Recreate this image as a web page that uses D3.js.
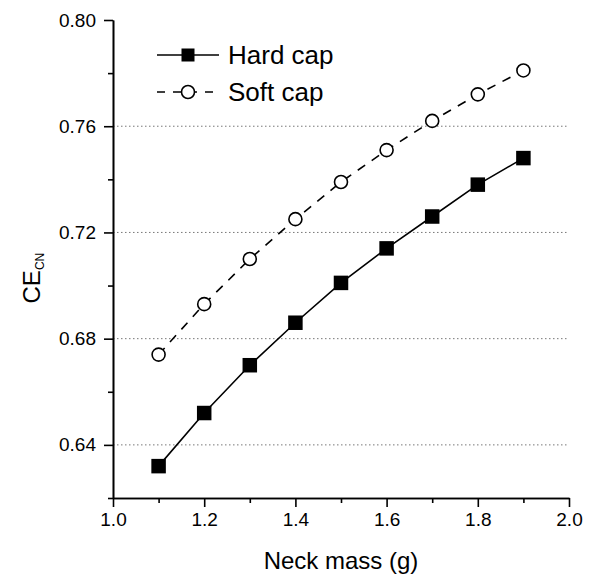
<!DOCTYPE html>
<html>
<head>
<meta charset="utf-8">
<script src="https://cdn.jsdelivr.net/npm/d3@7"></script>
<style>
  body { margin: 0; background: #fff; }
  svg { display: block; font-family: "Liberation Sans", Arial, sans-serif; }
</style>
</head>
<body>
<div id="chart"></div>
<script>
// values
const neckMass = [1.1, 1.2, 1.3, 1.4, 1.5, 1.6, 1.7, 1.8, 1.9];
const hardCap = [0.632, 0.652, 0.670, 0.686, 0.701, 0.714, 0.726, 0.738, 0.748];
const softCap = [0.674, 0.693, 0.710, 0.725, 0.739, 0.751, 0.762, 0.772, 0.781];
const seriesNames = ["Hard cap", "Soft cap"];
const xTicks = [1.0, 1.2, 1.4, 1.6, 1.8, 2.0];
const xMinorTicks = [1.1, 1.3, 1.5, 1.7, 1.9];
const yTicks = [0.64, 0.68, 0.72, 0.76, 0.80];
const yMinorTicks = [0.62, 0.66, 0.70, 0.74, 0.78];

const margin = ({top: 20, right: 26, bottom: 77, left: 113});
const width = 595 - margin.left - margin.right;
const height = 575 - margin.top - margin.bottom;

const x = d3.scaleLinear()
  .domain([1.0, 2.0])
  .range([0, width]);
const y = d3.scaleLinear()
  .domain([0.62, 0.80])
  .range([height, 0]);

const svg = d3.select("#chart")
  .append("svg")
  .attr("width", 595)
  .attr("height", 575)
  .append("g")
  .attr("transform", `translate(${margin.left}, ${margin.top})`);

// dotted grid at the labelled values (not the top one)
svg.append("g")
  .selectAll("line")
  .data(yTicks.filter(d => d < 0.8))
  .join("line")
  .attr("x1", 0)
  .attr("x2", width)
  .attr("y1", d => y(d))
  .attr("y2", d => y(d))
  .attr("stroke", "#777")
  .attr("stroke-width", 1)
  .attr("stroke-dasharray", "1.5,2.5");

// axes
const xAxis = d3.axisBottom(x).tickValues(xTicks).tickFormat(d3.format(".1f")).tickSize(9).tickSizeOuter(0).tickPadding(6);
const xMinor = d3.axisBottom(x).tickValues(xMinorTicks).tickFormat("").tickSize(5).tickSizeOuter(0);
const yAxis = d3.axisLeft(y).tickValues(yTicks).tickFormat(d3.format(".2f")).tickSize(9).tickSizeOuter(0).tickPadding(8);
const yMinor = d3.axisLeft(y).tickValues(yMinorTicks).tickFormat("").tickSize(5).tickSizeOuter(0);

svg.append("g").attr("transform", `translate(0, ${height})`).call(xMinor);
svg.append("g").attr("transform", `translate(0, ${height})`).call(xAxis);
svg.append("g").call(yMinor);
svg.append("g").call(yAxis);

svg.selectAll(".domain, .tick line")
  .attr("stroke", "#000")
  .attr("stroke-width", 1.6);
svg.selectAll(".tick text")
  .style("font-size", "19px")
  .style("font-family", "'Liberation Sans', Arial, sans-serif")
  .attr("fill", "#000");

// lines
const line = d3.line()
  .x((d, i) => x(neckMass[i]))
  .y(d => y(d));

svg.append("path")
  .datum(hardCap)
  .attr("fill", "none")
  .attr("stroke", "#000")
  .attr("stroke-width", 1.6)
  .attr("d", line);

svg.append("path")
  .datum(softCap)
  .attr("fill", "none")
  .attr("stroke", "#000")
  .attr("stroke-width", 1.6)
  .attr("stroke-dasharray", "9,8")
  .attr("d", line);

// markers
const sq = 14.5;
svg.append("g")
  .selectAll("rect")
  .data(hardCap)
  .join("rect")
  .attr("x", (d, i) => x(neckMass[i]) - sq / 2)
  .attr("y", d => y(d) - sq / 2)
  .attr("width", sq)
  .attr("height", sq)
  .attr("fill", "#000");

svg.append("g")
  .selectAll("circle")
  .data(softCap)
  .join("circle")
  .attr("cx", (d, i) => x(neckMass[i]))
  .attr("cy", d => y(d))
  .attr("r", 6.5)
  .attr("fill", "#fff")
  .attr("stroke", "#000")
  .attr("stroke-width", 1.6);

// legend
const legend = svg.append("g").attr("transform", "translate(44, 35)");
const rowH = 37;
seriesNames.forEach((name, i) => {
  const g = legend.append("g").attr("transform", `translate(0, ${i * rowH})`);
  g.append("line")
    .attr("x1", 0).attr("x2", 62)
    .attr("stroke", "#000")
    .attr("stroke-width", 1.6)
    .attr("stroke-dasharray", i === 0 ? null : "8,8");
  if (i === 0) {
    g.append("rect")
      .attr("x", 31 - 6.5).attr("y", -6.5)
      .attr("width", 13).attr("height", 13)
      .attr("fill", "#000");
  } else {
    g.append("circle")
      .attr("cx", 31).attr("cy", 0).attr("r", 6.5)
      .attr("fill", "#fff").attr("stroke", "#000").attr("stroke-width", 1.6);
  }
  g.append("text")
    .attr("x", 71)
    .attr("dy", "0.35em")
    .style("font-size", "26px")
    .text(name);
});

// axis titles
svg.append("text")
  .attr("x", width / 2)
  .attr("y", height + 71)
  .attr("text-anchor", "middle")
  .style("font-size", "24px")
  .text("Neck mass (g)");

const yTitle = svg.append("text")
  .attr("transform", `translate(${-73}, ${height * 0.54}) rotate(-90)`)
  .attr("text-anchor", "middle")
  .style("font-size", "24px");
yTitle.append("tspan").text("CE");
yTitle.append("tspan")
  .attr("dy", "0.3em")
  .style("font-size", "12px")
  .text("CN");
</script>
</body>
</html>
